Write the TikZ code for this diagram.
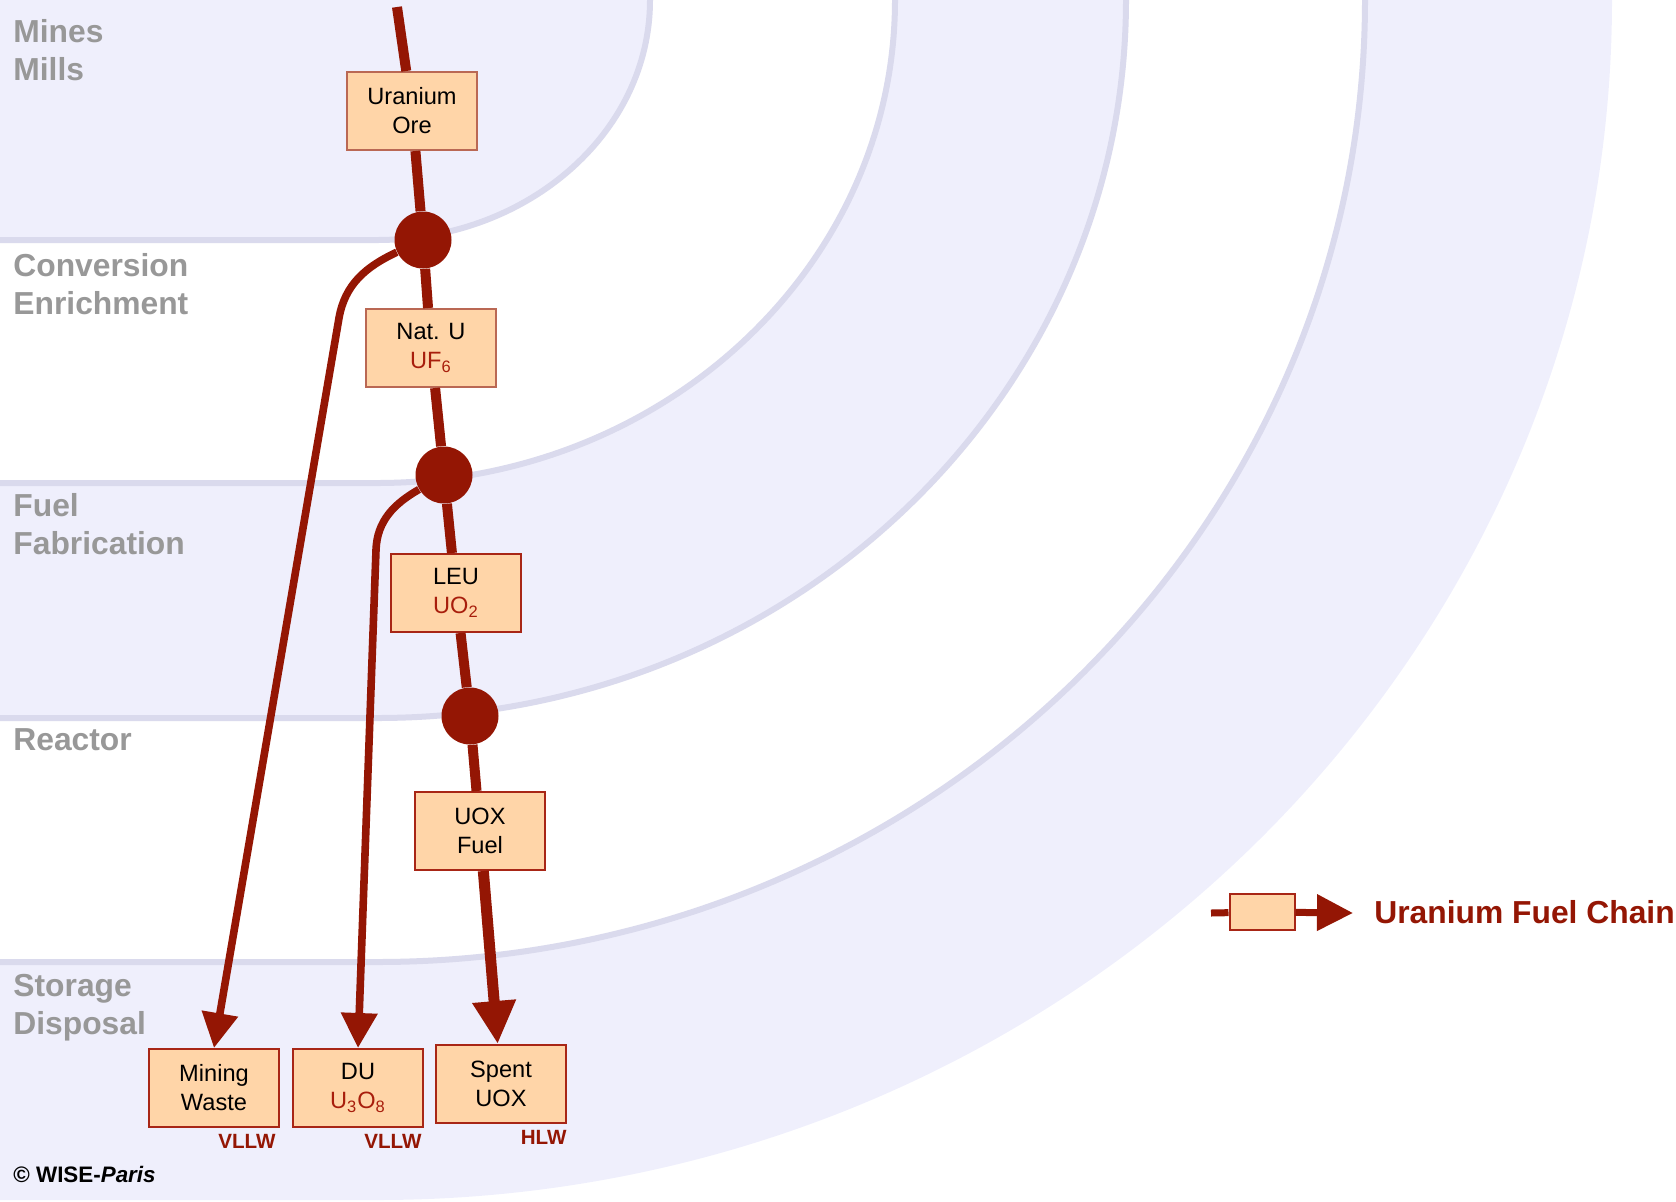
\documentclass[tikz,border=0pt]{standalone}
\usepackage{fontspec}
\setmainfont{Liberation Sans}
\usepackage{xcolor}
\usepackage{tikz}
\usetikzlibrary{arrows.meta,positioning}

\definecolor{bandfill}{RGB}{239,239,252}
\definecolor{bandline}{RGB}{218,218,237}
\definecolor{bandtext}{RGB}{152,152,152}
\definecolor{chainred}{RGB}{148,22,4}
\definecolor{formred}{RGB}{168,30,12}
\definecolor{boxfill}{RGB}{255,213,168}
\definecolor{boxedge}{RGB}{168,38,22}
\definecolor{boxedgelt}{RGB}{186,104,84}

\begin{document}
\begin{tikzpicture}[x=0.5pt,y=-0.5pt,
  band/.style={font=\fontsize{15.9}{19}\selectfont\bfseries,text=bandtext,anchor=north west,align=left,inner sep=0},
  prod/.style={draw=boxedge,line width=1pt,fill=boxfill,minimum width=65pt,minimum height=39pt,inner sep=0,align=center,font=\fontsize{11.8}{14.5}\selectfont},
  junction/.style={circle,fill=chainred,minimum size=28.5pt,inner sep=0},
  chain/.style={draw=chainred,line width=5pt},
  branch/.style={draw=chainred,line width=3.8pt},
  waste/.style={font=\fontsize{10.3}{12}\selectfont\bfseries,text=chainred,inner sep=0,anchor=north east}]
\useasboundingbox (0,0) rectangle (1676,1201);

% stages as nested quarter rings, outermost first
\fill[bandfill] (0,0) -- (1612,0) arc[start angle=0,end angle=-90,x radius=617.5pt,y radius=600pt] -- (0,1200) -- cycle;
\fill[white] (0,0) -- (1365,0) arc[start angle=0,end angle=-90,x radius=494pt,y radius=481pt] -- (0,962) -- cycle;
\fill[bandfill] (0,0) -- (1126,0) arc[start angle=0,end angle=-90,x radius=374.5pt,y radius=359pt] -- (0,718) -- cycle;
\fill[white] (0,0) -- (895,0) arc[start angle=0,end angle=-90,x radius=259pt,y radius=241.5pt] -- (0,483) -- cycle;
\fill[bandfill] (0,0) -- (650,0) arc[start angle=0,end angle=-90,x radius=136.5pt,y radius=120pt] -- (0,240) -- cycle;
\foreach \rx/\ry in {273/240,518/483,749/718,988/962}
  \draw[bandline,line width=3pt] (377+\rx,0) arc[start angle=0,end angle=-90,x radius=\rx*0.5pt,y radius=\ry*0.5pt] -- (0,\ry);

\node[band] (mines) at (13,19) {Mines\\Mills};
\node[band] (conv) at (13,253) {Conversion\\Enrichment};
\node[band] (fab) at (13,493) {Fuel\\Fabrication};
\node[band] (react) at (13,728) {Reactor};
\node[band] (store) at (13,974) {Storage\\Disposal};

% fuel chain
\coordinate (mine) at (397,7);
\node[prod,draw=boxedgelt] (ore) at (412,111) {Uranium\\Ore};
\node[junction] (j1) at (423,240) {};
\node[prod,draw=boxedgelt] (natu) at (431,348) {Nat. U\\\textcolor{formred}{UF\textsubscript{6}}};
\node[junction] (j2) at (444,475) {};
\node[prod] (leu) at (456,593) {LEU\\\textcolor{formred}{UO\textsubscript{2}}};
\node[junction] (j3) at (470,716) {};
\node[prod] (uox) at (480,831) {UOX\\Fuel};

% wastes
\node[prod] (mw) at (214,1088) {Mining\\Waste};
\node[prod] (du) at (358,1088) {DU\\\textcolor{formred}{U\textsubscript{3}O\textsubscript{8}}};
\node[prod] (spent) at (501,1084) {Spent\\UOX};
\node[below=3pt of mw.south east,waste,xshift=-2pt] (mwcls) {VLLW};
\node[below=3pt of du.south east,waste,xshift=-1pt] (ducls) {VLLW};
\node[below=3pt of spent.south east,waste] (spcls) {HLW};

\coordinate (bend1) at (339,318);
\coordinate (bend2) at (376,550);

\draw[chain] (mine) -- (ore);
\draw[chain] (ore) -- (j1) -- (natu) -- (j2) -- (leu) -- (j3) -- (uox);
\draw[chain,line width=5.5pt,-{Triangle[length=21.5pt,width=20.5pt]}] (uox) -- (spent);
\draw[branch,-{Triangle[length=17.5pt,width=17.5pt]}] (j1) to[out=205,in=80] (bend1) -- (mw.north);
\draw[branch,-{Triangle[length=17.5pt,width=17.5pt]}] (j2) to[out=210,in=88] (bend2) -- (du.north);

% legend
\coordinate (lgin) at (1211,913);
\node[prod,minimum width=32.5pt,minimum height=18pt] (lgbox) at (1262,912) {};
\coordinate (lgout) at (1353,913);
\draw[chainred,line width=3.5pt] (lgin) -- (lgbox);
\draw[chainred,line width=3.5pt,-{Triangle[length=18pt,width=17.5pt]}] (lgbox) -- (lgout);
\node[anchor=base west,inner sep=0,text=chainred,font=\fontsize{15.9}{19}\selectfont\bfseries] (lgtext) at (1374,923) {Uranium Fuel Chain};

\node[anchor=base west,inner sep=0,font=\fontsize{11.2}{13}\selectfont] (wise) at (13,1182) {\textbf{\textcopyright\ WISE-\textit{Paris}}};
\end{tikzpicture}
\end{document}
